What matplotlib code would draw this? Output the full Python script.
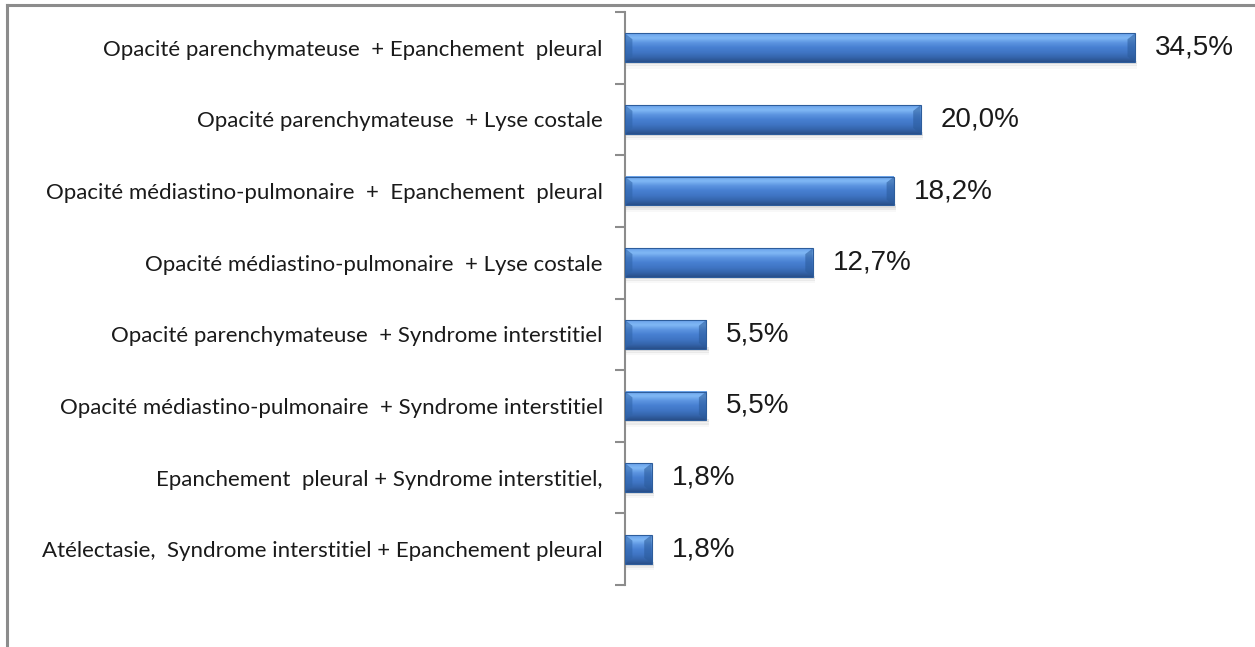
import numpy as np
import matplotlib.pyplot as plt
from matplotlib.patches import Rectangle, Polygon
from matplotlib.lines import Line2D

categories = [
    'Opacité parenchymateuse  + Epanchement  pleural',
    'Opacité parenchymateuse  + Lyse costale',
    'Opacité médiastino-pulmonaire  +  Epanchement  pleural',
    'Opacité médiastino-pulmonaire  + Lyse costale',
    'Opacité parenchymateuse  + Syndrome interstitiel',
    'Opacité médiastino-pulmonaire  + Syndrome interstitiel',
    'Epanchement  pleural + Syndrome interstitiel,',
    'Atélectasie,  Syndrome interstitiel + Epanchement pleural',
]
values = [34.5, 20.0, 18.2, 12.7, 5.5, 5.5, 1.8, 1.8]
value_labels = ['34,5%', '20,0%', '18,2%', '12,7%', '5,5%', '5,5%', '1,8%', '1,8%']

W, H = 1255, 647
fig = plt.figure(figsize=(W / 100, H / 100), dpi=100)
ax = fig.add_axes([625 / W, 1 - 585 / H, 620 / W, 573 / H])

n = len(categories)
y = np.arange(n)
bar_h = 0.40
ax.set_ylim(n - 0.5, -0.5)
ax.set_xlim(0, 620 / 14.78)

# vertical gradient for the bevelled bar look (top light -> bottom dark)
grad = np.array([
    [0.42, 0.64, 0.92],
    [0.50, 0.72, 0.96],
    [0.36, 0.58, 0.88],
    [0.28, 0.50, 0.82],
    [0.25, 0.46, 0.77],
    [0.21, 0.40, 0.68],
    [0.16, 0.31, 0.54],
])
img = np.stack([np.interp(np.linspace(0, 1, 64), np.linspace(0, 1, len(grad)), grad[:, k])
                for k in range(3)], axis=1)[:, None, :]

for yi, v, lab in zip(y, values, value_labels):
    top, bot = yi - bar_h / 2, yi + bar_h / 2
    # soft shadow under the bar
    for k, a in enumerate([0.12, 0.08, 0.04]):
        ax.add_patch(Rectangle((0.1, bot - 0.02 + k * 0.03), v + 0.05, 0.05,
                               facecolor='#555555', alpha=a, lw=0, zorder=1))
    ax.imshow(img, extent=(0, v, bot, top), aspect='auto', zorder=2,
              interpolation='bilinear')
    ax.add_patch(Rectangle((0, top), v, bar_h, fill=False,
                           edgecolor='#2d5d9c', lw=0.8, zorder=3))
    # bevel facets at both ends
    bev = min(0.5, v / 2)
    ax.add_patch(Polygon([(0, top), (bev, top + 0.08), (bev, bot - 0.08), (0, bot)],
                         closed=True, facecolor='#2f63a8', alpha=0.55, lw=0, zorder=3))
    ax.add_patch(Polygon([(v, top), (v - bev, top + 0.08), (v - bev, bot - 0.08), (v, bot)],
                         closed=True, facecolor='#2a5a9a', alpha=0.55, lw=0, zorder=3))
    ax.text(v + 1.35, yi, lab, va='center', ha='left', fontsize=20,
            family='Liberation Sans', color='#1a1a1a')

ax.set_yticks(y)
ax.set_yticklabels(categories, fontsize=16, family='Lato', color='#1a1a1a')
ax.tick_params(axis='y', which='major', length=0, pad=16)
ax.set_yticks(np.arange(-0.5, n, 1.0), minor=True)
ax.tick_params(axis='y', which='minor', length=7, width=1.5, color='#8c8c8c')
ax.set_xticks([])
for s in ['top', 'right', 'bottom']:
    ax.spines[s].set_visible(False)
ax.spines['left'].set_color('#8c8c8c')
ax.spines['left'].set_linewidth(1.5)

# outer frame of the original chart area (top and left edges visible)
fig.add_artist(Line2D([7 / W, 1], [1 - 5 / H, 1 - 5 / H], color='#8c8c8c', lw=2.2))
fig.add_artist(Line2D([7 / W, 7 / W], [0, 1 - 5 / H], color='#8c8c8c', lw=2.2))

fig.savefig('out.png', dpi=100)
